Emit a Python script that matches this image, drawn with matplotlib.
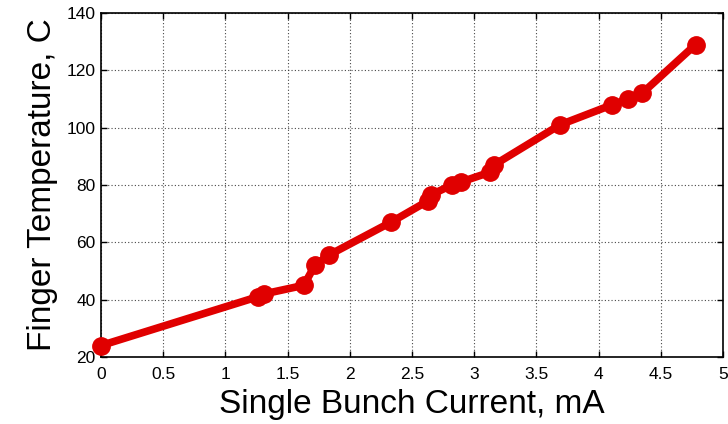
import matplotlib
matplotlib.use("Agg")
import matplotlib.pyplot as plt

plt.rcParams['font.family'] = ['Liberation Sans', 'DejaVu Sans']

# data
current = [0.0, 1.26, 1.31, 1.63, 1.72, 1.83, 2.33, 2.63, 2.65, 2.82, 2.89,
           3.13, 3.16, 3.69, 4.11, 4.24, 4.35, 4.78]
temperature = [24, 41, 42, 45, 52, 55.5, 67, 74.5, 76.5, 80, 81,
               84.5, 87, 101, 108, 110, 112, 129]

xticks = [0, 0.5, 1, 1.5, 2, 2.5, 3, 3.5, 4, 4.5, 5]
xticklabels = ['0', '0.5', '1', '1.5', '2', '2.5', '3', '3.5', '4', '4.5', '5']
yticks = [20, 40, 60, 80, 100, 120, 140]

fig = plt.figure(figsize=(7.28, 4.24), dpi=100)
ax = fig.add_axes([101/728, 1 - 357/424, 622/728, 344/424])

ax.plot(current, temperature, color='#e00000', linewidth=5.5, marker='o',
        markersize=12.5, solid_capstyle='round', solid_joinstyle='round', clip_on=False, zorder=3)

ax.set_xlim(0, 5)
ax.set_ylim(20, 140)
ax.set_xticks(xticks)
ax.set_xticklabels(xticklabels)
ax.set_yticks(yticks)
ax.grid(True, color='#333333', linestyle=(0, (1, 2)), linewidth=0.8, alpha=0.9)
ax.tick_params(direction='in', top=True, right=True, labelsize=12.5, length=4, width=1, pad=4)
ax.tick_params(axis='x', pad=7)
for s in ax.spines.values():
    s.set_linewidth(1.2)

ax.set_xlabel('Single Bunch Current, mA', fontsize=24, labelpad=5)
ax.set_ylabel('Finger Temperature, C', fontsize=24, labelpad=6)

fig.savefig('out.png', dpi=100)
